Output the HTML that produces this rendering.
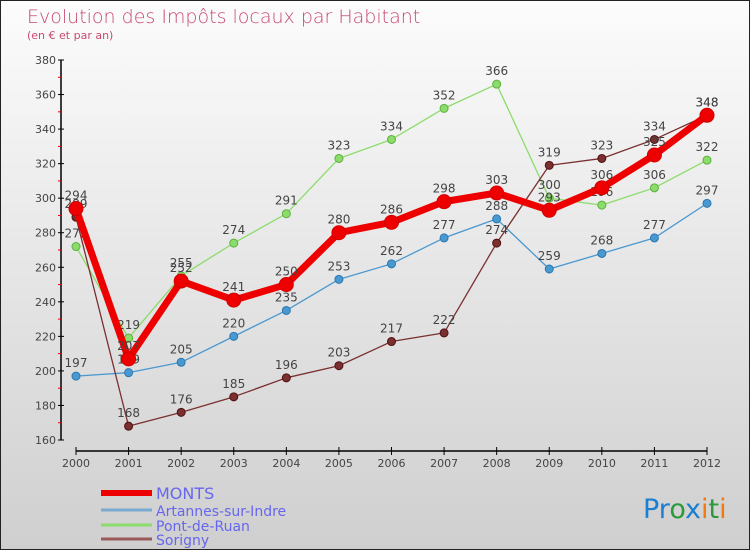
<!DOCTYPE html>
<html><head><meta charset="utf-8"><style>
body{margin:0}
#c{width:748px;height:548px;border:1px solid #222;background:linear-gradient(#fcfcfc,#cfcfcf);position:relative;overflow:hidden;font-family:"DejaVu Sans","Liberation Sans",sans-serif}
text{font-family:"DejaVu Sans","Liberation Sans",sans-serif}
</style></head><body>
<div id="c">
<svg id="s" width="748" height="548">
<text x="26" y="22" font-size="19" fill="#c84a70" style="font-weight:200">Evolution des Impôts locaux par Habitant</text>
<text x="26" y="38" font-size="11" fill="#c84a70">(en € et par an)</text>
<text x="642" y="517" font-size="27"><tspan fill="#1a7fd0">Pr</tspan><tspan fill="#2a9a3a">o</tspan><tspan fill="#1a7fd0">x</tspan><tspan fill="#f07a10">i</tspan><tspan fill="#2a9a3a">t</tspan><tspan fill="#f07a10">i</tspan></text>
</svg>
</div>
<script>
const years=[2000,2001,2002,2003,2004,2005,2006,2007,2008,2009,2010,2011,2012];
const yTicks=[160,180,200,220,240,260,280,300,320,340,360,380];
const monts=[294,207,252,241,250,280,286,298,303,293,306,325,348];
const artannes=[197,199,205,220,235,253,262,277,288,259,268,277,297];
const pont=[272,219,255,274,291,323,334,352,366,300,296,306,322];
const sorigny=[289,168,176,185,196,203,217,222,274,319,323,334,348];
const NS='http://www.w3.org/2000/svg';
const svg=document.getElementById('s');
const X=i=>75+(706-75)*i/(years.length-1);
const Y=v=>439-(v-160)*(439-59)/220;
function el(t,a,p){const e=document.createElementNS(NS,t);for(const k in a)e.setAttribute(k,a[k]);(p||svg).appendChild(e);return e;}
const ya=el('line',{x1:60,y1:59,x2:60,y2:439,stroke:'#000','stroke-width':1.5});


yTicks.forEach((v,i)=>{
 el('line',{x1:57,x2:63,y1:Y(v),y2:Y(v),stroke:'#000'});
 if(i<yTicks.length-1)el('line',{x1:57,x2:60,y1:Y(v+10),y2:Y(v+10),stroke:'#e00'});
 const t=el('text',{x:55,y:Y(v)+4,'text-anchor':'end','font-size':11,fill:'#444'});
 t.textContent=v;
 
 
});
const xa=el('line',{x1:75,y1:450,x2:706,y2:450,stroke:'#000','stroke-width':1.5});


years.forEach((y,i)=>{
 el('line',{x1:X(i),x2:X(i),y1:446,y2:454,stroke:'#000'});
 const t=el('text',{x:X(i),y:466,'text-anchor':'middle','font-size':11,fill:'#444'});
 t.textContent=y;
 
 
});
function series(data,color,w,r,name,stroke){
 const g=el('g',{});
 
 
 el('polyline',{points:data.map((v,i)=>X(i)+','+Y(v)).join(' '),fill:'none',stroke:color,'stroke-width':w,'stroke-linejoin':'round'},g);
 data.forEach((v,i)=>{
  const c=el('circle',{cx:X(i),cy:Y(v),r:r,fill:color,stroke:stroke,'stroke-width':1},g);
  
  
  const t=el('text',{x:X(i),y:Y(v)-9,'text-anchor':'middle','font-size':12,fill:'#444'},g);
  t.textContent=v;
  
  
 });
}
series(artannes,'#4a98d0',1.3,4,'artannes','#2a78b0');
series(pont,'#8cdc6c',1.3,4,'pont-de-ruan','#5cb03c');
series(sorigny,'#7a3030',1.3,4,'sorigny','#501010');
series(monts,'#ee0000',7,7,'monts','#d00000');
const leg=[['MONTS','#ee0000',6],['Artannes-sur-Indre','#7aaad0',3],['Pont-de-Ruan','#8cdc6c',3],['Sorigny','#9a5a5a',3]];
leg.forEach((l,i)=>{
 const y=[492,509,524,538][i];
 const g=el('g',{});
 
 
 el('line',{x1:100,x2:151,y1:y,y2:y,stroke:l[1],'stroke-width':l[2]},g);
 const t=el('text',{x:155,y:y+6,'font-size':i==0?16:14,fill:'#6666ee'},g);
 t.textContent=l[0];
});
</script>
</body></html>
